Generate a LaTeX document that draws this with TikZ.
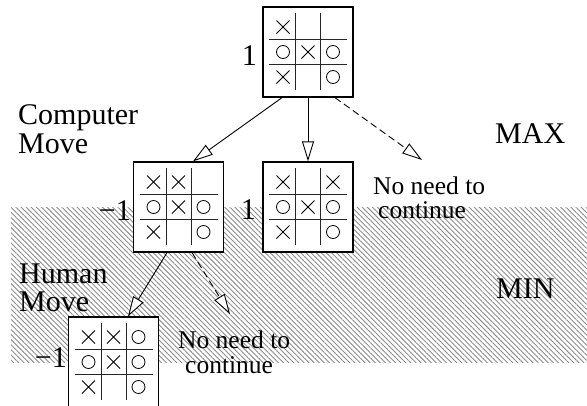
\documentclass[tikz,border=0pt]{standalone}
\usepackage{fontspec}
\setmainfont{Liberation Serif}
\usetikzlibrary{arrows.meta,patterns.meta}
\tikzset{
  big/.style={font=\fontsize{30}{30}\selectfont, inner sep=0pt},
  small/.style={font=\fontsize{25.5}{25.5}\selectfont, inner sep=0pt},
  board/.style={draw, line width=1.3pt, fill=white, minimum size=90pt, inner sep=0pt},
  gridl/.style={line width=0.8pt, black!85},
  xo/.style={line width=0.8pt},
  tree/.style={line width=0.9pt, -{Triangle[open, length=20pt, width=12pt, fill=white]}},
  skipped/.style={tree, dash pattern=on 7pt off 4pt},
}
\newcommand\myboard[4]{%
  \node[board] (#1) at (#2) {};
  \begin{scope}[shift={(#2)}]
    \draw[gridl] (-12.5,-39) -- (-12.5,38) (12.5,-39) -- (12.5,38)
                 (-39,-12.5) -- (39,-12.5) (-39,12.5) -- (39,12.5);
    \foreach \c/\r in {#3}
      \draw[xo] (\c*25-31.5,\r*25-31.5) -- ++(13,13) ++(-13,0) -- ++(13,-13);
    \foreach \c/\r in {#4}
      \draw[xo] (\c*25-25,\r*25-25) circle (6.5);
  \end{scope}}
\begin{document}
\begin{tikzpicture}[x=1pt,y=-1pt]
\useasboundingbox (0,0) rectangle (587,405);
\clip (0,0) rectangle (587,405);
\fill[pattern={Lines[angle=-45,distance=3.6pt,line width=0.9pt]}, pattern color=black!45] (11,207) rectangle (587,362);

\myboard{b1}{308,52}{0/0,1/1,0/2}{0/1,2/1,2/2}
\myboard{b2}{178.5,207}{0/0,1/0,1/1,0/2}{0/1,2/1,2/2}
\myboard{b3}{308,207}{0/0,2/0,1/1,0/2}{0/1,2/1,2/2}
\myboard{b4}{113.5,362}{0/0,1/0,1/1,0/2}{2/0,0/1,2/1,2/2}

\node[big, anchor=base east] (l1) at (257,65) {1};
\node[big, anchor=base east] (l2) at (131,220) {−1};
\node[big, anchor=base east] (l3) at (256,219) {1};
\node[big, anchor=base east] (l4) at (67,367) {−1};

\node[big, anchor=base west] (cm1) at (18,124) {Computer};
\node[big, anchor=base west] (cm2) at (18,153) {Move};
\node[big, anchor=base west] (hm1) at (19,283) {Human};
\node[big, anchor=base west] (hm2) at (19,311) {Move};
\node[big, anchor=base west] (max) at (495,143) {MAX};
\node[big, anchor=base west] (min) at (496,298) {MIN};

\node[small, anchor=base west] (n1a) at (373,194) {No need to};
\node[small, anchor=base west] (n1b) at (378,218) {continue};
\node[small, anchor=base west] (n2a) at (178,348) {No need to};
\node[small, anchor=base west] (n2b) at (185,373) {continue};

\coordinate (e1) at (422,160);
\coordinate (e2) at (230,314);

\draw[tree] ([xshift=-26pt]b1.south) -- ([xshift=14.5pt]b2.north);
\draw[tree] (b1.south) -- (b3.north);
\draw[skipped] ([xshift=27pt]b1.south) -- (e1);
\draw[tree] ([xshift=-11.5pt]b2.south) -- ([xshift=14.5pt]b4.north);
\draw[skipped] ([xshift=13.5pt]b2.south) -- (e2);
\end{tikzpicture}
\end{document}
